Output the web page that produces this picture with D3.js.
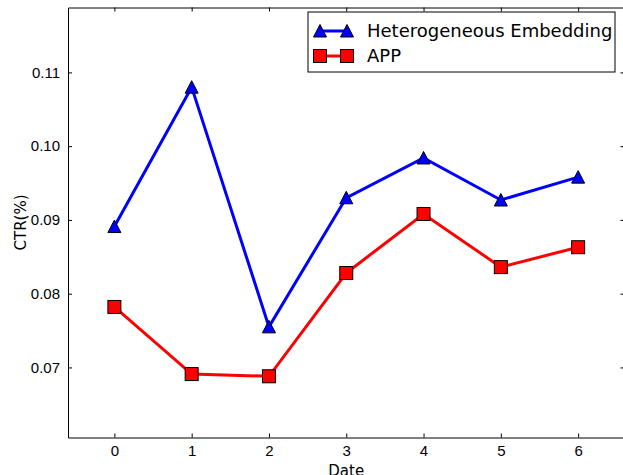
<!DOCTYPE html>
<html>
<head>
<meta charset="utf-8">
<script src="https://cdn.jsdelivr.net/npm/d3@7"></script>
<style>
  body { margin: 0; background: #fff; }
  svg { display: block; font-family: "DejaVu Sans", sans-serif; }
  .axis path, .axis line { stroke: #000; stroke-width: 1; }
  .axis text { font-size: 15px; fill: #000; }
</style>
</head>
<body>
<div id="chart"></div>
<script>
const dates = [0, 1, 2, 3, 4, 5, 6];
const heteroValues = [0.0891, 0.1080, 0.0755, 0.0930, 0.0984, 0.0927, 0.0958];
const appValues = [0.0782, 0.0691, 0.0688, 0.0828, 0.0908, 0.0836, 0.0863];
const yTicks = [0.07, 0.08, 0.09, 0.10, 0.11];
const seriesNames = ["Heterogeneous Embedding", "APP"];

const width = 623;
const height = 475;
const margin = { top: 7.5, right: -1.5, bottom: 37.5, left: 68 };

const x = d3.scaleLinear().domain([-0.6, 6.6]).range([margin.left, width - margin.right]);
const y = d3.scaleLinear().domain([0.0605, 0.1188]).range([height - margin.bottom, margin.top]);

const svg = d3.select("#chart").append("svg")
  .attr("width", width)
  .attr("height", height);

// axes, matplotlib classic style: ticks inside, on all four sides
svg.append("g")
  .attr("class", "axis")
  .attr("transform", `translate(0,${height - margin.bottom})`)
  .call(d3.axisBottom(x).tickValues(dates).tickSizeInner(-4).tickSizeOuter(0).tickPadding(8).tickFormat(d3.format("d")));

svg.append("g")
  .attr("class", "axis")
  .attr("transform", `translate(0,${margin.top})`)
  .call(d3.axisTop(x).tickValues(dates).tickSizeInner(-4).tickSizeOuter(0).tickFormat(""));

svg.append("g")
  .attr("class", "axis")
  .attr("transform", `translate(${margin.left},0)`)
  .call(d3.axisLeft(y).tickValues(yTicks).tickSizeInner(-4).tickSizeOuter(0).tickPadding(8).tickFormat(d3.format(".2f")));

svg.append("g")
  .attr("class", "axis")
  .attr("transform", `translate(${width - margin.right},0)`)
  .call(d3.axisRight(y).tickValues(yTicks).tickSizeInner(-4).tickSizeOuter(0).tickFormat(""));

// axis labels (the reference crops "Date" at the bottom edge too)
svg.append("text")
  .attr("x", x(3))
  .attr("y", height + 1)
  .attr("text-anchor", "middle")
  .attr("font-size", 15)
  .text("Date");

svg.append("text")
  .attr("transform", `translate(${26},${(margin.top + height - margin.bottom) / 2}) rotate(-90)`)
  .attr("text-anchor", "middle")
  .attr("font-size", 15)
  .text("CTR(%)");

const line = d3.line()
  .x((d, i) => x(dates[i]))
  .y((d) => y(d));

const trianglePath = "M0,-6.5L6.5,6L-6.5,6Z";

function drawSeries(values, color, marker) {
  svg.append("path")
    .attr("d", line(values))
    .attr("fill", "none")
    .attr("stroke", color)
    .attr("stroke-width", 3);

  const g = svg.append("g");
  values.forEach((v, i) => {
    if (marker === "triangle") {
      g.append("path")
        .attr("d", trianglePath)
        .attr("transform", `translate(${x(dates[i])},${y(v)})`)
        .attr("fill", color)
        .attr("stroke", "#000")
        .attr("stroke-width", 1);
    } else {
      g.append("rect")
        .attr("x", x(dates[i]) - 6.5)
        .attr("y", y(v) - 6.5)
        .attr("width", 13)
        .attr("height", 13)
        .attr("fill", color)
        .attr("stroke", "#000")
        .attr("stroke-width", 1);
    }
  });
}

drawSeries(heteroValues, "#0000ff", "triangle");
drawSeries(appValues, "#ff0000", "square");

// legend
const legend = svg.append("g").attr("transform", "translate(308,12)");
legend.append("rect")
  .attr("width", 307)
  .attr("height", 60)
  .attr("fill", "#fff")
  .attr("stroke", "#000")
  .attr("stroke-width", 1);

const legendColors = ["#0000ff", "#ff0000"];
seriesNames.forEach((name, i) => {
  const cy = 19 + i * 25;
  const g = legend.append("g").attr("transform", `translate(0,${cy})`);
  g.append("line")
    .attr("x1", 12).attr("x2", 39)
    .attr("y1", 0).attr("y2", 0)
    .attr("stroke", legendColors[i])
    .attr("stroke-width", 3);
  [12, 39].forEach((mx) => {
    if (i === 0) {
      g.append("path")
        .attr("d", trianglePath)
        .attr("transform", `translate(${mx},0)`)
        .attr("fill", legendColors[i])
        .attr("stroke", "#000");
    } else {
      g.append("rect")
        .attr("x", mx - 6.5).attr("y", -6.5)
        .attr("width", 13).attr("height", 13)
        .attr("fill", legendColors[i])
        .attr("stroke", "#000");
    }
  });
  g.append("text")
    .attr("x", 59)
    .attr("y", 0)
    .attr("dy", "0.36em")
    .attr("font-size", 18)
    .text(name);
});
</script>
</body>
</html>
